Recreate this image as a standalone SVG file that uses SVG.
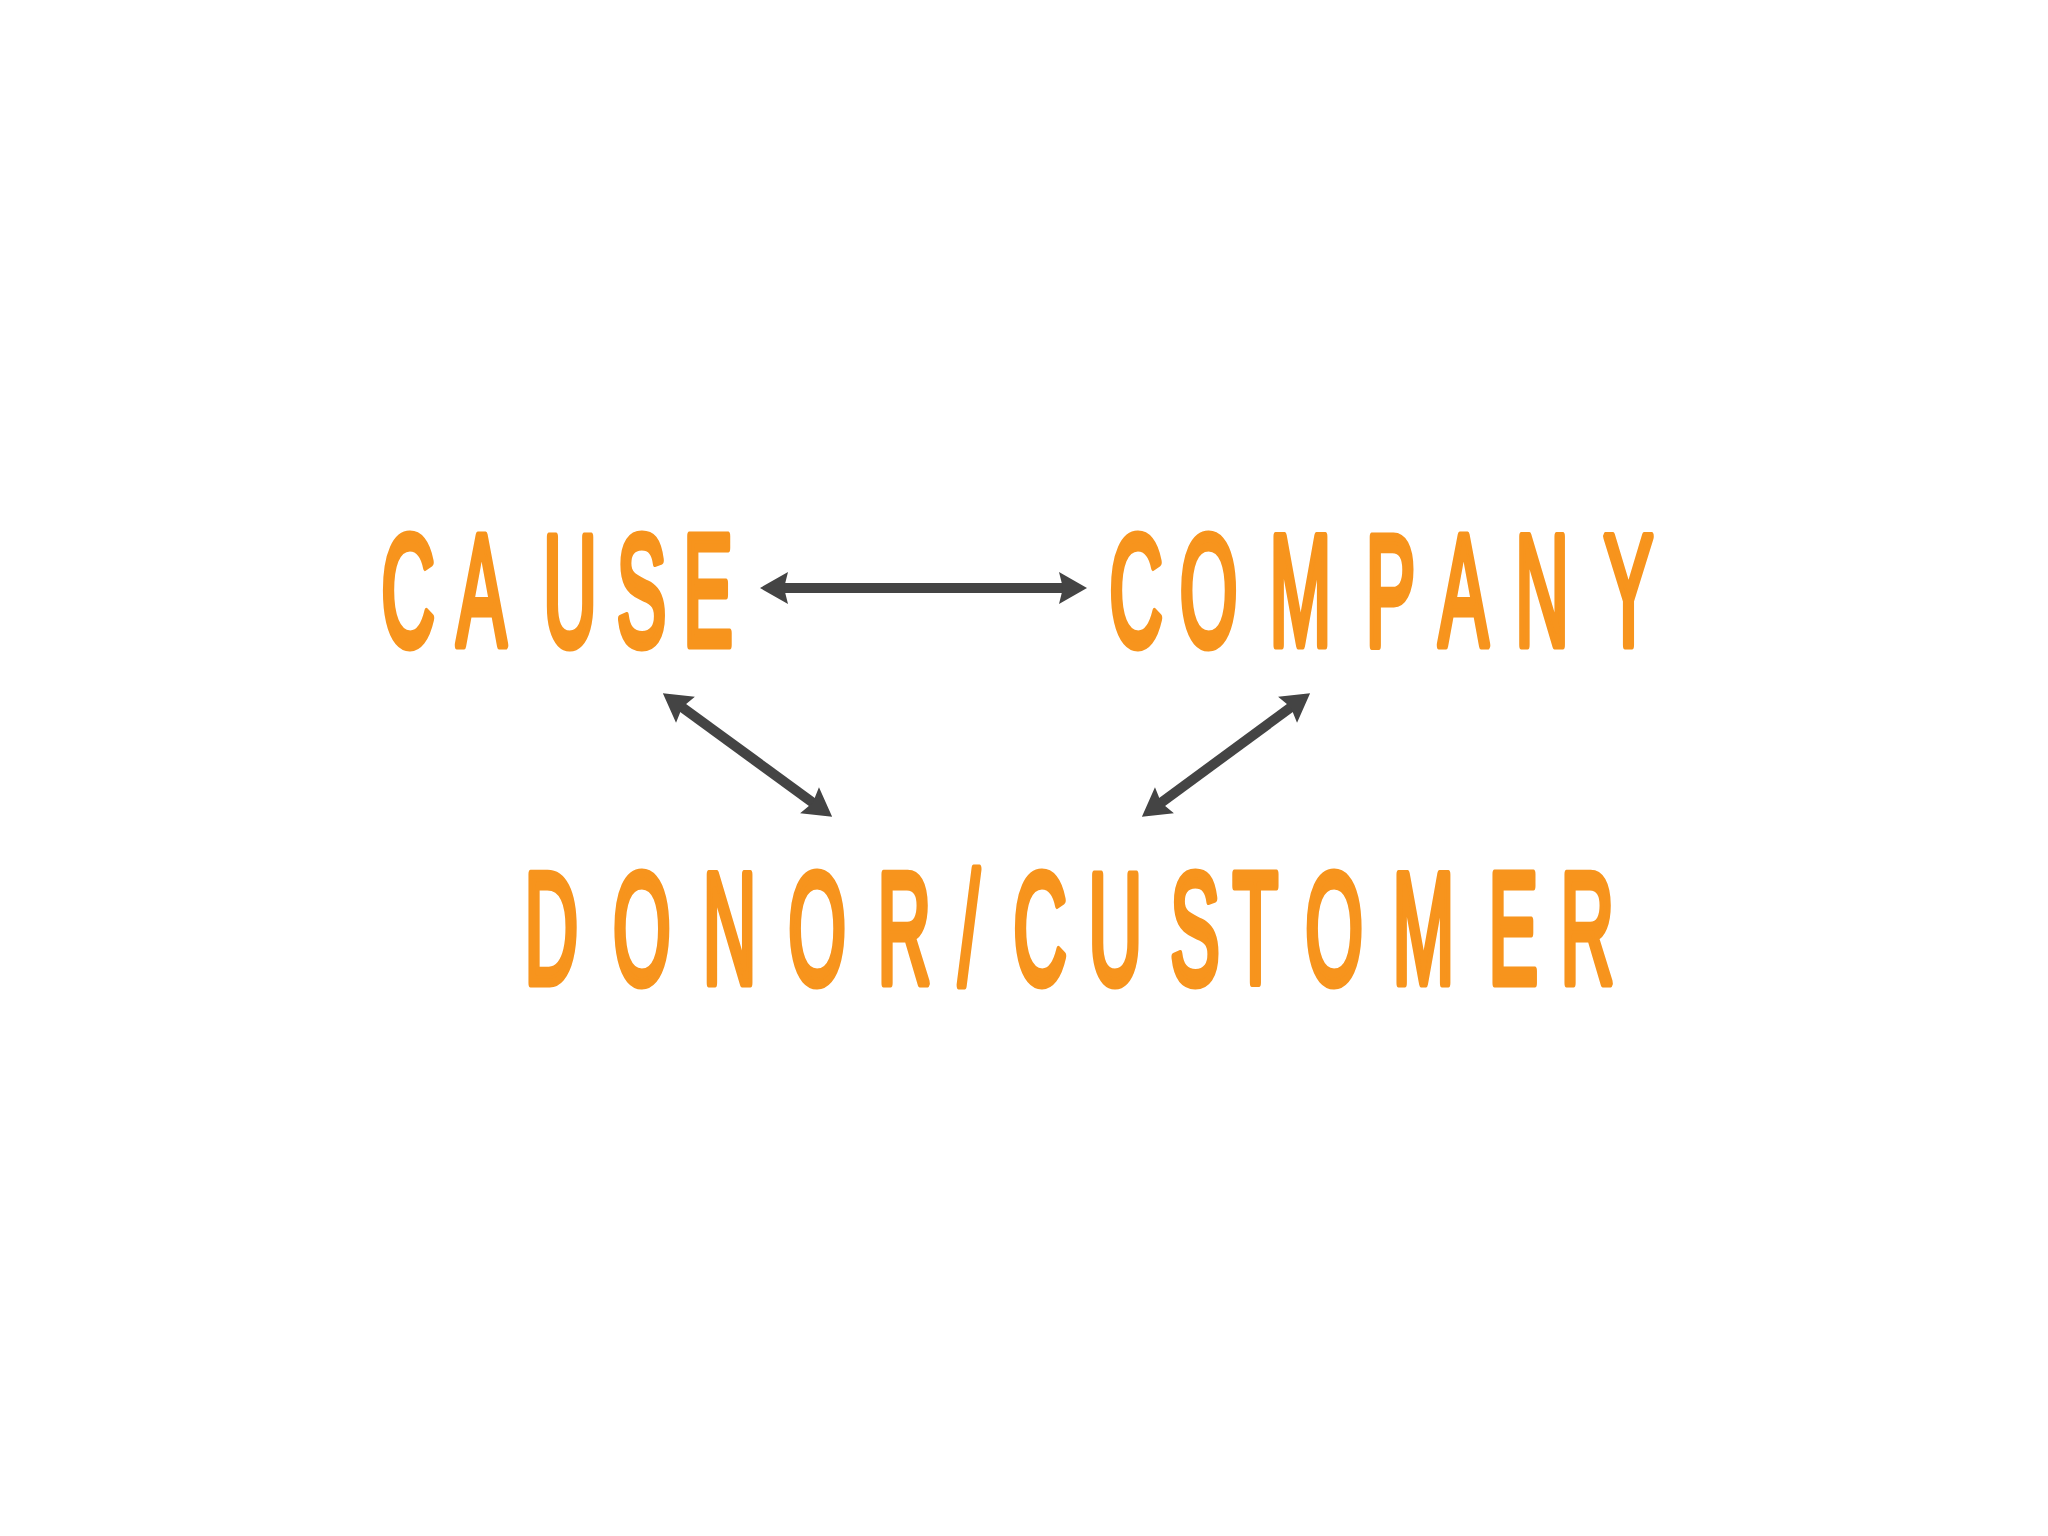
<svg xmlns="http://www.w3.org/2000/svg" width="2048" height="1536" viewBox="0 0 2048 1536">
<defs>
<style>
.lbl{font-family:"Liberation Sans",Arial,sans-serif;font-size:158px;fill:#F7941D;stroke:#F7941D;stroke-width:9;stroke-linejoin:round}
.arr{stroke:#444444;stroke-width:10;fill:none;marker-start:url(#head);marker-end:url(#head)}
</style>
<marker id="head" markerUnits="userSpaceOnUse" viewBox="-10 -18 32 36" refX="0" refY="0" markerWidth="32" markerHeight="36" orient="auto-start-reverse">
<path d="M-8,-16 L20,0 L-8,16 L-4,0 z" fill="#444444"/>
</marker>
</defs>
<rect width="2048" height="1536" fill="#ffffff"/>
<g id="cause">
<text class="lbl" transform="matrix(0.47 0 0 1 0 645)" x="811 972 1156 1312 1454" y="0">CAUSE</text>
</g>
<g id="company">
<text class="lbl" transform="matrix(0.47 0 0 1 0 645)" x="2360 2510 2701 2906 3061 3224 3412" y="0">COMPANY</text>
</g>
<g id="donor-customer">
<text class="lbl" transform="matrix(0.47 0 0 1 0 983)" x="1116 1304 1495 1677 1867 2040 2156 2316 2490 2623 2777 2963 3167 3320" y="0">DONOR/CUSTOMER</text>
</g>
<g id="connectors">
<line class="arr" x1="780" y1="588" x2="1067" y2="588"/>
<line class="arr" x1="679" y1="705" x2="816" y2="805"/>
<line class="arr" x1="1294" y1="705" x2="1158" y2="805"/>
</g>
</svg>
